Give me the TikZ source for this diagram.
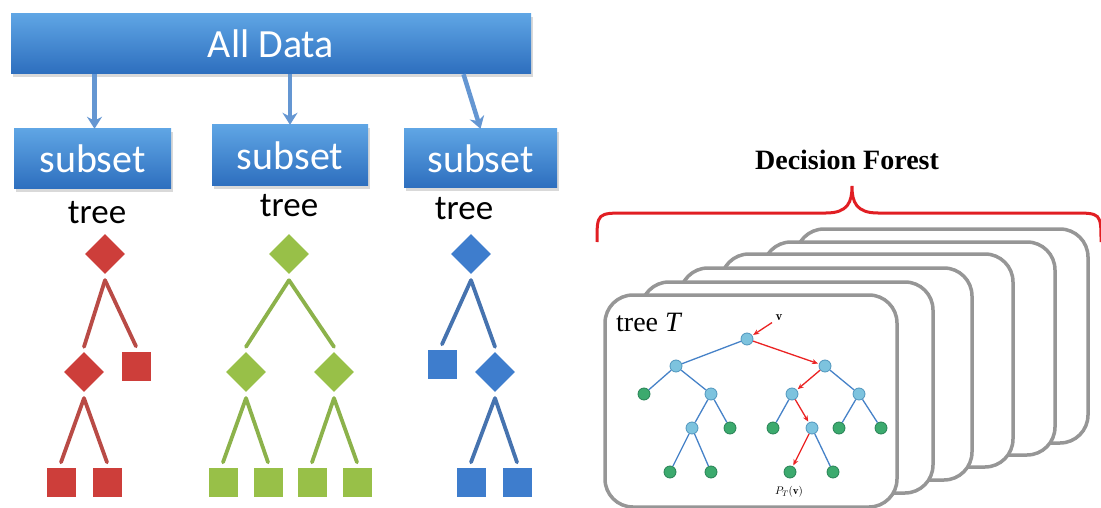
\documentclass[tikz,border=0pt]{standalone}
\usepackage{fontspec}
\setsansfont{Carlito}
\newfontfamily\cardfont{Liberation Serif}
\usetikzlibrary{shapes.geometric,arrows.meta,shadows,calc}
\definecolor{bartop}{RGB}{95,165,228}
\definecolor{barbot}{RGB}{45,110,190}
\definecolor{flowc}{RGB}{100,150,210}
\definecolor{tred}{RGB}{205,62,58}
\definecolor{tredl}{RGB}{185,75,70}
\definecolor{tgreen}{RGB}{152,192,72}
\definecolor{tgreenl}{RGB}{140,178,75}
\definecolor{tblue}{RGB}{62,125,205}
\definecolor{tbluel}{RGB}{70,115,175}
\definecolor{cardgray}{RGB}{150,150,150}
\definecolor{bracered}{RGB}{225,30,35}
\definecolor{nblue}{RGB}{125,195,222}
\definecolor{nblueD}{RGB}{80,150,190}
\definecolor{ngreen}{RGB}{60,170,110}
\definecolor{ngreenD}{RGB}{40,130,85}
\definecolor{edgeblue}{RGB}{70,130,200}
\definecolor{pathred}{RGB}{235,35,35}
\newcommand\treebranch[3]{\draw[br=#1] ($(#2.south)+(0,6)$) -- ($(#3.north)+(0,-5)$);}
\begin{document}
\begin{tikzpicture}[x=1pt,y=-1pt,
  bar/.style={rectangle, top color=bartop, bottom color=barbot, text=white,
    font=\sffamily\fontsize{40}{44}\selectfont, inner sep=0,
    drop shadow={shadow xshift=2pt, shadow yshift=-3pt, opacity=0.3}},
  flow/.style={draw=flowc, line width=4.5, -{Stealth[length=12pt,width=15pt]}},
  treelbl/.style={font=\sffamily\fontsize{35}{38}\selectfont, text=black},
  dia/.style={diamond, fill=#1, minimum size=40, inner sep=0},
  sq/.style={rectangle, fill=#1, minimum size=29, inner sep=0},
  br/.style={draw=#1, line width=3.8, line cap=round},
  card/.style={draw=cardgray, fill=white, line width=3.5, rounded corners=28},
  inode/.style={circle, fill=nblue, draw=nblueD, line width=0.8, minimum size=12, inner sep=0},
  lnode/.style={circle, fill=ngreen, draw=ngreenD, line width=0.8, minimum size=12, inner sep=0},
  tedge/.style={draw=edgeblue, line width=1.3},
  redge/.style={draw=pathred, line width=1.3, -{Stealth[length=6pt,width=5pt]}, shorten >=1}
]
\useasboundingbox (0,0) rectangle (1101,508);

% ---------- left part ----------
\node[bar, minimum width=520, minimum height=60] (all) at (271,44) {All Data};
\node[bar, minimum width=157, minimum height=60] (s1) at (92.5,159) {subset};
\node[bar, minimum width=156, minimum height=61] (s2) at (290,155.5) {subset};
\node[bar, minimum width=153, minimum height=59] (s3) at (480.5,158.5) {subset};

\draw[flow] ($(s1.north |- all.south)+(2,0)$) -- ($(s1.north)+(2,0)$);
\draw[flow] (s2.north |- all.south) -- (s2.north);
\draw[flow] ($(s3.north |- all.south)+(-17,0)$) -- (s3.north);

\node[treelbl] (t1) at (97,213) {tree};
\node[treelbl] (t2) at (289,206) {tree};
\node[treelbl] (t3) at (464,209) {tree};

% red tree
\node[dia=tred] (r0) at (105,254) {};
\node[dia=tred] (r1) at (84,372) {};
\node[sq=tred] (r2) at (136,366) {};
\node[sq=tred] (r3) at (61,482) {};
\node[sq=tred] (r4) at (107,482) {};
\treebranch{tredl}{r0}{r1}
\treebranch{tredl}{r0}{r2}
\treebranch{tredl}{r1}{r3}
\treebranch{tredl}{r1}{r4}

% green tree
\node[dia=tgreen] (g0) at (289,254) {};
\node[dia=tgreen] (g1) at (246,372) {};
\node[dia=tgreen] (g2) at (334,372) {};
\node[sq=tgreen] (g3) at (223,482) {};
\node[sq=tgreen] (g4) at (268,482) {};
\node[sq=tgreen] (g5) at (312,482) {};
\node[sq=tgreen] (g6) at (357,482) {};
\treebranch{tgreenl}{g0}{g1}
\treebranch{tgreenl}{g0}{g2}
\treebranch{tgreenl}{g1}{g3}
\treebranch{tgreenl}{g1}{g4}
\treebranch{tgreenl}{g2}{g5}
\treebranch{tgreenl}{g2}{g6}

% blue tree
\node[dia=tblue] (b0) at (471,254) {};
\node[sq=tblue] (b1) at (442,364) {};
\node[dia=tblue] (b2) at (495,372) {};
\node[sq=tblue] (b3) at (471,482) {};
\node[sq=tblue] (b4) at (517,482) {};
\treebranch{tbluel}{b0}{b1}
\treebranch{tbluel}{b0}{b2}
\treebranch{tbluel}{b2}{b3}
\treebranch{tbluel}{b2}{b4}

% ---------- right part ----------
\node[font=\cardfont\fontsize{28}{30}\selectfont\bfseries] (df) at (847,160) {Decision Forest};
\draw[draw=bracered, line width=3]
  (597,242) .. controls (597,213) .. (627,213) -- (826,213)
  .. controls (848,213) and (852,202) .. (852,186)
  .. controls (852,202) and (856,213) .. (878,213) -- (1072,213)
  .. controls (1101,213) .. (1101,242);

\draw[card] (796,229) rectangle (1088,443);
\draw[card] (763,242) rectangle (1055,455);
\draw[card] (721,254) rectangle (1013,467);
\draw[card] (680,268) rectangle (972,480);
\draw[card] (641,282) rectangle (933,493);
\draw[card] (605,295) rectangle (897,507);

\node[anchor=west, inner sep=0, font=\cardfont\fontsize{28}{30}\selectfont] (tt) at (616,322) {tree \textit{T}};

\node[inode] (n0) at (747,339) {};
\node[inode] (nL) at (676,366) {};
\node[inode] (nR) at (825,366) {};
\node[lnode] (nLL) at (644,394) {};
\node[inode] (nLR) at (711,394) {};
\node[inode] (nRL) at (792,394) {};
\node[inode] (nRR) at (859,394) {};
\node[inode] (nLRL) at (692,428) {};
\node[lnode] (nLRR) at (730,428) {};
\node[lnode] (nRLL) at (773,428) {};
\node[inode] (nRLR) at (812,428) {};
\node[lnode] (nRRL) at (839,428) {};
\node[lnode] (nRRR) at (881,428) {};
\node[lnode] (nA) at (670,472) {};
\node[lnode] (nB) at (711,472) {};
\node[lnode] (nC) at (790,472) {};
\node[lnode] (nD) at (833,472) {};

\draw[tedge] (n0) -- (nL);
\draw[tedge] (nL) -- (nLL);
\draw[tedge] (nL) -- (nLR);
\draw[tedge] (nLR) -- (nLRL);
\draw[tedge] (nLR) -- (nLRR);
\draw[tedge] (nLRL) -- (nA);
\draw[tedge] (nLRL) -- (nB);
\draw[tedge] (nR) -- (nRR);
\draw[tedge] (nRL) -- (nRLL);
\draw[tedge] (nRR) -- (nRRL);
\draw[tedge] (nRR) -- (nRRR);
\draw[tedge] (nRLR) -- (nD);

\node[font=\fontsize{13}{15}\selectfont] (v) at (779,318) {$\mathbf{v}$};
\draw[redge] (v) -- (n0);
\draw[redge] (n0) -- (nR);
\draw[redge] (nR) -- (nRL);
\draw[redge] (nRL) -- (nRLR);
\draw[redge] (nRLR) -- (nC);
\node[font=\fontsize{11}{13}\selectfont] (pt) at (789,492) {$P_T(\mathbf{v})$};
\end{tikzpicture}
\end{document}
